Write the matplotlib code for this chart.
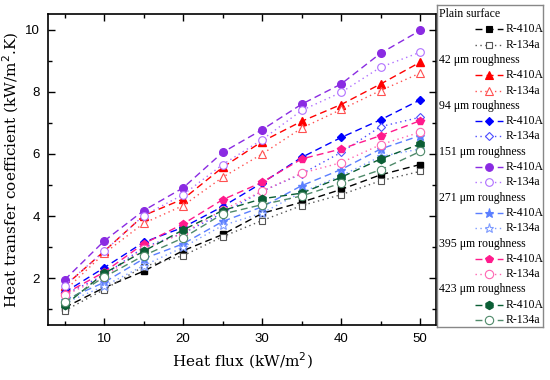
import matplotlib
matplotlib.use('Agg')
import matplotlib.pyplot as plt
from matplotlib.lines import Line2D
from matplotlib.ticker import MultipleLocator

# heat flux (kW/m2)
q = [5, 10, 15, 20, 25, 30, 35, 40, 45, 50]

# heat transfer coefficient (kW/m2.K)
plain_410 = [1.06, 1.70, 2.23, 2.89, 3.41, 4.09, 4.45, 4.86, 5.33, 5.66]
plain_134 = [0.96, 1.64, 2.38, 2.73, 3.34, 3.86, 4.34, 4.69, 5.14, 5.44]
r42_410 = [1.75, 2.87, 4.02, 4.55, 5.57, 6.40, 7.05, 7.59, 8.25, 8.95]
r42_134 = [1.60, 2.80, 3.77, 4.34, 5.25, 6.00, 6.83, 7.43, 8.04, 8.60]
r94_410 = [1.55, 2.34, 3.16, 3.64, 4.31, 5.07, 5.89, 6.53, 7.10, 7.74]
r94_134 = [1.48, 2.10, 3.00, 3.45, 4.10, 4.80, 5.36, 6.05, 6.88, 7.18]
r151_410 = [1.95, 3.20, 4.18, 4.91, 6.05, 6.78, 7.60, 8.25, 9.24, 9.97]
r151_134 = [1.77, 2.87, 4.02, 4.69, 5.66, 6.46, 7.40, 7.98, 8.79, 9.27]
r271_410 = [1.30, 1.87, 2.63, 3.11, 3.83, 4.30, 4.98, 5.50, 6.16, 6.59]
r271_134 = [1.20, 1.75, 2.41, 3.00, 3.70, 4.10, 4.77, 5.30, 5.92, 6.16]
r395_410 = [1.50, 2.20, 3.11, 3.75, 4.53, 5.09, 5.84, 6.16, 6.59, 7.07]
r395_134 = [1.45, 2.05, 2.95, 3.45, 4.20, 4.80, 5.38, 5.72, 6.30, 6.70]
r423_410 = [1.13, 2.16, 2.87, 3.56, 4.18, 4.56, 4.74, 5.25, 5.84, 6.32]
r423_134 = [1.23, 2.04, 2.73, 3.30, 4.07, 4.37, 4.65, 5.06, 5.49, 6.08]

groups = ['Plain surface', '42 \u03bcm roughness', '94 \u03bcm roughness',
          '151 \u03bcm roughness', '271 \u03bcm roughness',
          '395 \u03bcm roughness', '423 \u03bcm roughness']
data = [(plain_410, plain_134), (r42_410, r42_134), (r94_410, r94_134),
        (r151_410, r151_134), (r271_410, r271_134), (r395_410, r395_134),
        (r423_410, r423_134)]
colors = ['black', '#ff0000', '#0000ff', '#8a2be2', '#5b7fff', '#ff1a8c', '#0b5e35']
open_colors = ['#555555', '#ff5050', '#4d4dff', '#b070ff', '#7f9cff', '#ff66b3', '#4f8a6a']
markers = ['s', '^', 'D', 'o', '*', 'p', 'h']
open_markers = ['s', '^', 'D', 'o', '*', 'o', 'o']
msizes = [4.5, 5.5, 4.5, 5.5, 6.5, 6, 6]
ls_134 = [':', ':', ':', ':', ':', ':', '--']

fig = plt.figure(figsize=(5.5, 3.8), dpi=100)
ax = fig.add_axes([48/550, 55/380, 388/550, 311/380])

dash = (0, (5, 3))
dot = (0, (1, 2.5))
for i in range(len(groups)):
    y410, y134 = data[i]
    ax.plot(q, y410, linestyle=dash, color=colors[i], lw=1, marker=markers[i],
            ms=msizes[i], mfc=colors[i], mec=colors[i])
    ax.plot(q, y134, linestyle=dash if ls_134[i] == '--' else dot, color=open_colors[i], lw=1,
            marker=open_markers[i], ms=msizes[i], mfc='white', mec=open_colors[i], mew=0.8)

ax.set_xlim(2.9, 52)
ax.set_ylim(0.5, 10.5)
ax.xaxis.set_major_locator(MultipleLocator(10))
ax.xaxis.set_minor_locator(MultipleLocator(5))
ax.yaxis.set_major_locator(MultipleLocator(2))
ax.yaxis.set_minor_locator(MultipleLocator(1))
ax.tick_params(which='both', direction='in', top=True, right=True, width=1)
ax.tick_params(which='major', length=5, labelsize=9.5, pad=6)
ax.tick_params(which='minor', length=3)
for lab in ax.get_xticklabels() + ax.get_yticklabels():
    lab.set_family('Liberation Sans')
for s in ax.spines.values():
    s.set_linewidth(1.2)

ax.set_xlabel('Heat flux (kW/m$^2$)', family='DejaVu Serif', fontsize=11, labelpad=4)
ax.set_ylabel('Heat transfer coefficient (kW/m$^2$.K)', family='DejaVu Serif',
              fontsize=11, labelpad=3)

# legend box drawn by hand to get group headers
lax = fig.add_axes([437/550, 53/380, 106/550, 322/380])
lax.set_xlim(0, 106)
lax.set_ylim(322, 0)
lax.set_xticks([])
lax.set_yticks([])
for s in lax.spines.values():
    s.set_color('#888888')
    s.set_linewidth(1)
row = 0
for i in range(len(groups)):
    yy = 9 + row * 15.3
    lax.text(2, yy, groups[i], family='Liberation Serif', fontsize=8.5, va='center')
    row += 1
    for k, name in enumerate(['R-410A', 'R-134a']):
        yy = 9 + row * 15.3
        if k == 0:
            c, mk, mf, st = colors[i], markers[i], colors[i], dash
        else:
            c, mk, mf, st = open_colors[i], open_markers[i], 'white', dash if ls_134[i] == '--' else dot
        lax.add_line(Line2D([38, 66], [yy, yy], color=c, lw=1, linestyle=st))
        lax.add_line(Line2D([52], [yy], color=c, marker=mk, ms=msizes[i], mfc=mf, mec=c, mew=0.8))
        lax.text(69, yy, name, family='Liberation Serif', fontsize=8.5, va='center')
        row += 1

fig.savefig('out.png', dpi=100)
